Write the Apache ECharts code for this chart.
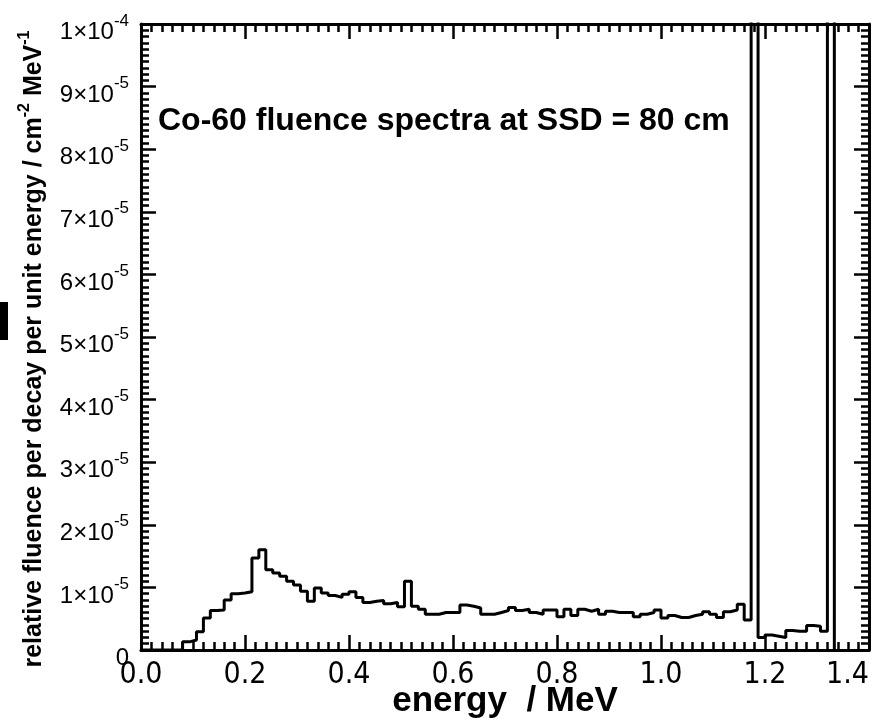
<!DOCTYPE html>
<html><head><meta charset="utf-8">
<script src="https://cdn.jsdelivr.net/npm/echarts@6/dist/echarts.min.js"></script>
<style>html,body{margin:0;padding:0;background:#fff}#c{width:890px;height:727px}</style>
</head><body><div id="c"></div>
<script>
// histogram: 100 bins of equal width starting at 0 MeV
const binWidth = 4 / 300;   // MeV
const binStart = 0;         // MeV
// relative fluence per bin, in units of 1e-5 cm^-2 MeV^-1 per decay
const fluence = [
  0, 0, 0, 0, 0, 0,
  0.13, 0.16, 0.29, 0.51, 0.63, 0.64, 0.80, 0.90, 0.91, 0.93,
  1.47, 1.60, 1.28, 1.23, 1.18, 1.10, 1.04, 0.94, 0.78, 0.99,
  0.91, 0.87, 0.84, 0.89, 0.93, 0.84, 0.76, 0.78, 0.79, 0.74,
  0.76, 0.69, 1.10, 0.70, 0.65, 0.57, 0.57, 0.60, 0.60, 0.60,
  0.72, 0.70, 0.67, 0.57, 0.57, 0.60, 0.63, 0.68, 0.63, 0.65,
  0.60, 0.57, 0.64, 0.64, 0.53, 0.65, 0.55, 0.65, 0.62, 0.65,
  0.57, 0.62, 0.60, 0.60, 0.60, 0.53, 0.57, 0.60, 0.64, 0.51,
  0.55, 0.52, 0.52, 0.55, 0.57, 0.61, 0.57, 0.52, 0.61, 0.64,
  0.73, 0.48, 30.0, 0.20, 0.24, 0.22, 0.20, 0.31, 0.30, 0.30,
  0.39, 0.38, 0.30, 25.0
];
const yTickExp = { main: -5, top: -4 };
const titleText = 'Co-60 fluence spectra at SSD = 80 cm';
const xName = 'energy  / MeV';

const pts = fluence.map((v, i) => [binStart + i * binWidth, v]);
pts.push([binStart + fluence.length * binWidth, 0]);

const FONT = 'Liberation Sans, Arial, sans-serif';
const NARROW = '"Liberation Sans Narrow", "DejaVu Sans Condensed", "Liberation Sans", sans-serif';
const black = '#000';
const tickCommon = {
  axisLine: { show: true, onZero: false, lineStyle: { color: black, width: 3 } },
  axisTick: { show: true, inside: true, length: 15, lineStyle: { color: black, width: 2.5 } },
  minorTick: { show: true, splitNumber: 10, length: 8, lineStyle: { color: black, width: 2.5 } },
  splitLine: { show: false }
};

const chart = echarts.init(document.getElementById('c'), null, { renderer: 'canvas' });
chart.setOption({
  animation: false,
  backgroundColor: '#fff',
  title: {
    text: titleText, left: 153, top: 100,
    textStyle: { fontFamily: FONT, fontSize: 32, fontWeight: 'bold', color: black }
  },
  grid: { left: 141, right: 21, top: 24, bottom: 77, outerBoundsMode: 'none', containLabel: false },
  xAxis: [
    Object.assign({
      type: 'value', position: 'bottom', min: 0, max: 1.4, interval: 0.2,
      name: xName, nameLocation: 'middle', nameGap: 34, nameMoveOverlap: false,
      nameTextStyle: { fontFamily: FONT, fontSize: 35, fontWeight: 'bold', color: black },
      axisLabel: { margin: 10, fontFamily: NARROW, fontSize: 30, color: black,
        alignMaxLabel: 'right',
        formatter: v => v.toFixed(1) }
    }, tickCommon),
    Object.assign({
      type: 'value', position: 'top', min: 0, max: 1.4, interval: 0.2,
      axisLabel: { show: false }
    }, tickCommon)
  ],
  yAxis: [
    Object.assign({
      type: 'value', position: 'left', min: 0, max: 10, interval: 1,
      name: '{n|relative fluence per decay per unit energy / cm}{s|-2}{n| MeV}{s|-1}',
      nameLocation: 'middle', nameRotate: 90, nameGap: 94, nameMoveOverlap: false,
      nameTextStyle: {
        padding: [0, 24, 0, 0],
        rich: {
          n: { fontFamily: FONT, fontSize: 25, fontWeight: 'bold', color: black, lineHeight: 25, verticalAlign: 'bottom' },
          s: { fontFamily: FONT, fontSize: 16, fontWeight: 'bold', color: black, lineHeight: 16, verticalAlign: 'bottom', padding: [0, 0, 14, 0] }
        }
      },
      axisLabel: {
        margin: 12,
        padding: [17, 0, 0, 0],
        formatter: v => v === 0 ? '{m|0}' : (v === 10 ? '{m|1×10}{s|' + yTickExp.top + '}' : '{m|' + v + '×10}{s|' + yTickExp.main + '}'),
        rich: {
          m: { fontFamily: FONT, fontSize: 24, color: black, lineHeight: 24, verticalAlign: 'bottom' },
          s: { fontFamily: FONT, fontSize: 17, color: black, lineHeight: 17, verticalAlign: 'bottom', padding: [0, 0, 15, 0] }
        }
      }
    }, tickCommon),
    Object.assign({
      type: 'value', position: 'right', min: 0, max: 10, interval: 1,
      axisLabel: { show: false }
    }, tickCommon)
  ],
  series: [{
    type: 'line', xAxisIndex: 0, yAxisIndex: 0,
    step: 'end', data: pts, showSymbol: false, clip: true,
    lineStyle: { color: black, width: 3 }
  }],
  graphic: [{
    type: 'rect', left: 0, top: 302, shape: { width: 8, height: 38 },
    style: { fill: black }
  }]
});
</script></body></html>
